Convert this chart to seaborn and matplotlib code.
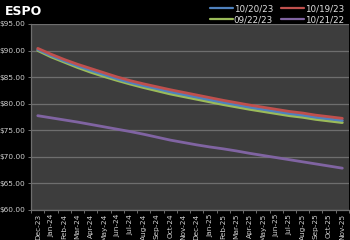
import numpy as np
import pandas as pd
import matplotlib
matplotlib.use("Agg")
import matplotlib.pyplot as plt
import seaborn as sns

months = ["Dec-23", "Jan-24", "Feb-24", "Mar-24", "Apr-24", "May-24", "Jun-24", "Jul-24",
          "Aug-24", "Sep-24", "Oct-24", "Nov-24", "Dec-24", "Jan-25", "Feb-25", "Mar-25",
          "Apr-25", "May-25", "Jun-25", "Jul-25", "Aug-25", "Sep-25", "Oct-25", "Nov-25"]

s_102023 = [90.2, 89.05, 88.05, 87.1, 86.25, 85.45, 84.65, 83.95, 83.35, 82.8, 82.2, 81.7,
            81.2, 80.7, 80.2, 79.75, 79.3, 78.9, 78.5, 78.1, 77.8, 77.4, 77.1, 76.8]
s_101923 = [90.4, 89.3, 88.3, 87.4, 86.6, 85.8, 85.0, 84.3, 83.7, 83.15, 82.6, 82.1,
            81.6, 81.1, 80.6, 80.15, 79.7, 79.3, 78.9, 78.5, 78.2, 77.8, 77.5, 77.2]
s_092223 = [90.0, 88.8, 87.8, 86.8, 85.9, 85.1, 84.35, 83.65, 83.0, 82.4, 81.8, 81.3,
            80.8, 80.3, 79.8, 79.35, 78.9, 78.5, 78.1, 77.7, 77.4, 77.0, 76.7, 76.4]
s_102122 = [77.7, 77.3, 76.9, 76.5, 76.05, 75.6, 75.15, 74.7, 74.2, 73.65, 73.1, 72.65,
            72.2, 71.8, 71.45, 71.05, 70.6, 70.2, 69.8, 69.4, 69.0, 68.6, 68.2, 67.8]

series_names = ["10/20/23", "10/19/23", "09/22/23", "10/21/22"]
series_vals = [s_102023, s_101923, s_092223, s_102122]
colors = {"10/20/23": "#4F81BD", "10/19/23": "#C0504D",
          "09/22/23": "#9BBB59", "10/21/22": "#8064A2"}

y_ticks = [60, 65, 70, 75, 80, 85, 90, 95]
y_labels = ["$%.2f" % v for v in y_ticks]

rows = []
for name, vals in zip(series_names, series_vals):
    for i, v in enumerate(vals):
        rows.append({"idx": i, "price": v, "series": name})
df = pd.DataFrame(rows)

sns.set_theme(style="dark")
fig = plt.figure(figsize=(3.5, 2.4), dpi=100, facecolor="black")
ax = fig.add_axes([0.089, 0.127, 0.908, 0.773])
ax.set_facecolor("#3d3d3d")

draw_order = ["10/21/22", "09/22/23", "10/20/23", "10/19/23"]
for name in draw_order:
    sns.lineplot(data=df[df["series"] == name], x="idx", y="price", color=colors[name],
                 linewidth=2.0, ax=ax, label=name, legend=False)

ax.set_xlim(-0.5, len(months) - 0.5)
ax.set_ylim(60, 95)
ax.set_yticks(y_ticks)
ax.set_yticklabels(y_labels)
ax.set_xticks(range(len(months)))
ax.set_xticklabels(months, rotation=90)
ax.set_xticks([i - 0.5 for i in range(len(months) + 1)], minor=True)
ax.set_xlabel("")
ax.set_ylabel("")
ax.grid(axis="y", color="#6e6e6e", linewidth=0.9)
ax.grid(axis="x", visible=False)
for side in ["top", "right"]:
    ax.spines[side].set_visible(False)
for side in ["left", "bottom"]:
    ax.spines[side].set_visible(True)
    ax.spines[side].set_color("#6e6e6e")
    ax.spines[side].set_linewidth(0.9)
ax.tick_params(axis="both", which="major", colors="#d0d0d0", labelsize=5.3, length=0, pad=2)
ax.tick_params(axis="x", which="minor", bottom=True, length=2.5, width=0.7, color="#6e6e6e")
ax.tick_params(axis="y", which="major", left=True, length=2, width=0.7, color="#6e6e6e", pad=2)
ax.tick_params(axis="x", which="major", pad=3)

fig.text(0.014, 0.925, "ESPO", color="white", fontsize=9, fontweight="bold",
         va="bottom", ha="left")

handles = {l: h for h, l in zip(*ax.get_legend_handles_labels())}
leg_order = ["10/20/23", "09/22/23", "10/19/23", "10/21/22"]
leg = fig.legend([handles[k] for k in leg_order], leg_order, ncol=2,
                 loc="upper right", bbox_to_anchor=(1.005, 1.015), frameon=False,
                 fontsize=6.3, labelcolor="#e0e0e0", handlelength=2.6,
                 handletextpad=0.1, columnspacing=0.9, labelspacing=0.25)
for h in leg.get_lines():
    h.set_linewidth(1.6)

fig.savefig("out.png", dpi=100, facecolor="black")
